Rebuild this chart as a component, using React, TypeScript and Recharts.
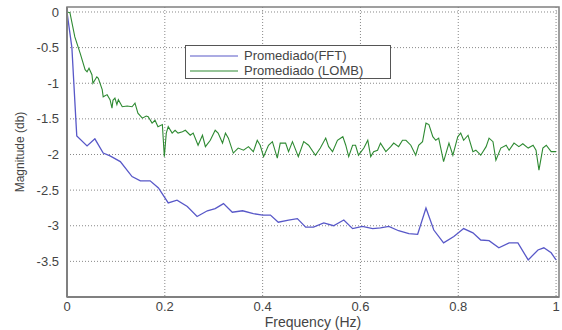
import React from "react";
import { LineChart, Line, XAxis, YAxis, CartesianGrid, ReferenceArea } from "recharts";

// Promediado (FFT)
const fftFreq = [0, 0.01, 0.014, 0.018, 0.02, 0.041, 0.057, 0.074, 0.088, 0.109, 0.133, 0.15, 0.17, 0.187, 0.207, 0.225, 0.246, 0.266, 0.287, 0.303, 0.32, 0.338, 0.359, 0.381, 0.4, 0.416, 0.432, 0.453, 0.471, 0.488, 0.504, 0.525, 0.545, 0.566, 0.584, 0.604, 0.625, 0.641, 0.658, 0.678, 0.699, 0.717, 0.734, 0.75, 0.77, 0.791, 0.811, 0.83, 0.846, 0.863, 0.883, 0.904, 0.922, 0.943, 0.963, 0.975, 0.99, 1.0];
const fftMag = [0, -0.5, -1.0, -1.5, -1.74, -1.88, -1.78, -1.98, -2.02, -2.1, -2.31, -2.37, -2.37, -2.47, -2.68, -2.64, -2.73, -2.87, -2.79, -2.76, -2.69, -2.81, -2.79, -2.83, -2.85, -2.85, -2.95, -2.92, -2.9, -3.02, -3.02, -2.96, -3.0, -2.92, -3.04, -3.01, -3.04, -3.03, -3.01, -3.07, -3.11, -3.12, -2.75, -3.06, -3.24, -3.15, -3.04, -3.1, -3.2, -3.21, -3.31, -3.24, -3.24, -3.48, -3.34, -3.31, -3.38, -3.48];

// Promediado (LOMB)
const lombFreq = [0, 0.006, 0.016, 0.027, 0.037, 0.041, 0.045, 0.051, 0.053, 0.061, 0.064, 0.072, 0.074, 0.082, 0.088, 0.092, 0.094, 0.098, 0.102, 0.105, 0.113, 0.123, 0.133, 0.139, 0.145, 0.154, 0.162, 0.166, 0.174, 0.18, 0.186, 0.195, 0.199, 0.203, 0.207, 0.215, 0.221, 0.227, 0.236, 0.242, 0.252, 0.258, 0.268, 0.277, 0.283, 0.293, 0.303, 0.309, 0.318, 0.324, 0.33, 0.34, 0.35, 0.361, 0.371, 0.381, 0.389, 0.395, 0.402, 0.412, 0.42, 0.43, 0.436, 0.447, 0.453, 0.461, 0.473, 0.484, 0.494, 0.508, 0.518, 0.529, 0.535, 0.543, 0.553, 0.564, 0.57, 0.576, 0.584, 0.59, 0.596, 0.607, 0.615, 0.621, 0.627, 0.635, 0.641, 0.652, 0.662, 0.668, 0.678, 0.686, 0.693, 0.703, 0.713, 0.719, 0.727, 0.734, 0.74, 0.748, 0.754, 0.76, 0.77, 0.781, 0.789, 0.799, 0.805, 0.811, 0.82, 0.83, 0.836, 0.846, 0.857, 0.863, 0.871, 0.877, 0.887, 0.898, 0.904, 0.914, 0.924, 0.932, 0.943, 0.953, 0.959, 0.965, 0.973, 0.98, 0.99, 1.0];
const lombMag = [0, -0.01, -0.35, -0.58, -0.81, -0.84, -0.79, -0.88, -1.0, -0.91, -0.93, -1.09, -1.19, -1.16, -1.23, -1.35, -1.24, -1.21, -1.3, -1.23, -1.33, -1.32, -1.33, -1.28, -1.42, -1.49, -1.46, -1.47, -1.56, -1.52, -1.61, -1.58, -2.03, -1.7, -1.61, -1.7, -1.66, -1.7, -1.68, -1.66, -1.73, -1.7, -1.87, -1.73, -1.89, -1.8, -1.66, -1.7, -1.84, -1.7, -1.77, -1.98, -1.91, -1.94, -1.89, -1.96, -1.8, -1.87, -2.03, -1.87, -1.82, -2.05, -1.84, -1.84, -1.96, -1.82, -2.03, -1.82, -1.87, -2.01, -1.91, -1.77, -1.89, -1.96, -1.8, -1.75, -1.87, -2.03, -1.87, -1.87, -2.01, -1.91, -1.8, -2.03, -1.96, -1.94, -1.84, -1.96, -1.89, -1.84, -1.89, -1.8, -1.8, -1.87, -2.01, -1.87, -1.82, -1.56, -1.58, -1.75, -1.8, -1.77, -2.1, -1.84, -2.01, -1.75, -1.7, -1.8, -1.73, -1.96, -1.94, -2.01, -1.89, -1.77, -1.82, -2.08, -1.91, -1.87, -1.94, -1.84, -1.89, -1.85, -1.91, -1.87, -1.94, -2.22, -1.91, -1.87, -1.96, -1.96];

const xTicks = [0, 0.2, 0.4, 0.6, 0.8, 1];
const yTicks = [0, -0.5, -1, -1.5, -2, -2.5, -3, -3.5];
const seriesNames = ["Promediado(FFT)", "Promediado (LOMB)"];
const colors = ["#5858c8", "#2e8a32"];

const fftData = fftFreq.map((f, i) => ({ f, v: fftMag[i] }));
const lombData = lombFreq.map((f, i) => ({ f, v: lombMag[i] }));

const FONT = "'Liberation Sans', Arial, sans-serif";

const LegendBox = () => (
  <div
    style={{
      position: "absolute",
      left: 185,
      top: 45,
      border: "1px solid #555",
      background: "#fff",
      width: 206,
      height: 34,
      boxSizing: "border-box",
      fontFamily: FONT,
      fontSize: 13,
      color: "#444",
      paddingTop: 2,
    }}
  >
    {seriesNames.map((n, i) => (
      <div key={n} style={{ display: "flex", alignItems: "center", height: 15 }}>
        <svg width={58} height={10} style={{ flex: "none" }}>
          <line x1={4} y1={5} x2={52} y2={5} stroke={colors[i]} strokeWidth={1.2} />
        </svg>
        <span style={{ lineHeight: "15px" }}>{n}</span>
      </div>
    ))}
  </div>
);

export default function App() {
  return (
    <div style={{ position: "absolute", left: 0, top: 0, width: 562, height: 330, background: "#fff" }}>
      <LineChart width={562} height={330} margin={{ top: 7, right: 3, bottom: 0, left: 0 }}>
        <CartesianGrid stroke="#888" strokeDasharray="1 2" verticalValues={xTicks} horizontalValues={yTicks} />
        <XAxis
          type="number"
          dataKey="f"
          domain={[0, 1.006]}
          ticks={xTicks}
          tickFormatter={(v: number) => String(v)}
          height={33}
          tickSize={3}
          tickMargin={2}
          tickLine={false}
          axisLine={{ stroke: "#808080", strokeWidth: 2 }}
          tick={{ fill: "#444", fontSize: 13, fontFamily: FONT }}
          allowDataOverflow
          label={{ value: "Frequency (Hz)", position: "insideBottom", offset: 3, style: { fill: "#444", fontSize: 14, fontFamily: FONT } }}
        />
        <YAxis
          type="number"
          domain={[-4, 0.07]}
          ticks={yTicks}
          tickFormatter={(v: number) => String(v)}
          width={67}
          tickLine={false}
          axisLine={{ stroke: "#808080", strokeWidth: 2 }}
          tick={{ fill: "#444", fontSize: 13, fontFamily: FONT }}
          allowDataOverflow
          label={{ value: "Magnitude (db)", angle: -90, position: "insideLeft", offset: 20, style: { textAnchor: "middle", fill: "#444", fontSize: 12, fontFamily: FONT } }}
        />
        <ReferenceArea x1={0} x2={1.006} y1={-4} y2={0.07} fill="none" stroke="#808080" strokeWidth={1.5} ifOverflow="visible" />
        <Line data={fftData} dataKey="v" type="linear" stroke={colors[0]} strokeWidth={1.3} dot={false} isAnimationActive={false} name={seriesNames[0]} />
        <Line data={lombData} dataKey="v" type="linear" stroke={colors[1]} strokeWidth={1.1} dot={false} isAnimationActive={false} name={seriesNames[1]} />
      </LineChart>
      <LegendBox />
    </div>
  );
}
